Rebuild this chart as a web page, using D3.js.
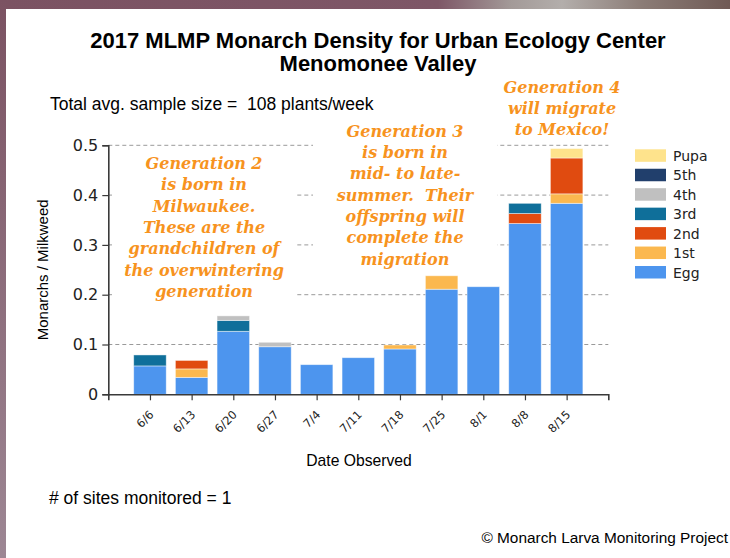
<!DOCTYPE html>
<html>
<head>
<meta charset="utf-8">
<script src="https://cdn.jsdelivr.net/npm/d3@7"></script>
<style>
  html, body { margin: 0; padding: 0; background: #fff; }
  svg { display: block; }
</style>
</head>
<body>
<div id="chart"></div>
<script>
// data
const dates = ["6/6", "6/13", "6/20", "6/27", "7/4", "7/11", "7/18", "7/25", "8/1", "8/8", "8/15"];
const stages = ["Egg", "1st", "2nd", "3rd", "4th", "5th", "Pupa"];
const egg    = [0.057, 0.034, 0.1265, 0.0955, 0.0595, 0.0735, 0.091, 0.211, 0.216, 0.343, 0.3835];
const first  = [0, 0.017, 0, 0, 0, 0, 0.008, 0.027, 0, 0, 0.019];
const second = [0, 0.017, 0, 0, 0, 0, 0, 0, 0, 0.020, 0.072];
const third  = [0.022, 0, 0.022, 0, 0, 0, 0, 0, 0, 0.0205, 0];
const fourth = [0, 0, 0.009, 0.009, 0, 0, 0, 0, 0, 0, 0];
const fifth  = [0, 0, 0, 0, 0, 0, 0, 0, 0, 0, 0];
const pupa   = [0, 0, 0, 0, 0, 0, 0, 0, 0, 0, 0.019];
const yTicks = [0, 0.1, 0.2, 0.3, 0.4, 0.5];

const colors = {
  "Egg": "#4d95ee", "1st": "#fbb84f", "2nd": "#e04b10", "3rd": "#0f6f9a",
  "4th": "#c0c0c0", "5th": "#213f6c", "Pupa": "#fee38c"
};

const gen2 = ["Generation 2", "is born in", "Milwaukee.", "These are the",
              "grandchildren of", "the overwintering", "generation"];
const gen3 = ["Generation 3", "is born in", "mid- to late-", "summer.  Their",
              "offspring will", "complete the", "migration"];
const gen4 = ["Generation 4", "will migrate", "to Mexico!"];

const W = 730, H = 558;
const sans = "'Liberation Sans', Arial, sans-serif";
const wide = "'DejaVu Sans', Verdana, sans-serif";
const orange = "#f7931e";

const svg = d3.select("#chart").append("svg")
  .attr("width", W)
  .attr("height", H);

// photo-ish frame round the white panel
const defs = svg.append("defs");
const gTop = defs.append("linearGradient").attr("id", "topStrip");
[["0%", "#7b5262"], ["60%", "#7e5767"], ["70%", "#a39a98"], ["77%", "#b3aeab"], ["88%", "#8b7c76"], ["100%", "#6f5a55"]]
  .forEach(([o, c]) => gTop.append("stop").attr("offset", o).attr("stop-color", c));
const gLeft = defs.append("linearGradient").attr("id", "leftStrip")
  .attr("x1", 0).attr("x2", 0).attr("y1", 0).attr("y2", 1);
[["0%", "#7b5262"], ["100%", "#9d8794"]]
  .forEach(([o, c]) => gLeft.append("stop").attr("offset", o).attr("stop-color", c));

svg.append("rect").attr("width", W).attr("height", 9).attr("fill", "url(#topStrip)");
svg.append("rect").attr("width", 6).attr("height", H).attr("fill", "url(#leftStrip)");
svg.append("rect").attr("x", 6).attr("y", 9).attr("width", W - 6).attr("height", H - 9).attr("fill", "#fff");

// scales
const x = d3.scaleLinear().domain([0, dates.length + 1]).range([108.3, 608.3]);
const y = d3.scaleLinear().domain([0, 0.5]).range([394.3, 145.3]);
const barW = (x(1) - x(0)) * 0.78;

// gridlines
svg.append("g").selectAll("line")
  .data(yTicks.filter(d => d > 0))
  .enter().append("line")
  .attr("x1", x(0)).attr("x2", x(dates.length + 1))
  .attr("y1", d => y(d)).attr("y2", d => y(d))
  .attr("stroke", "#9a9a9a")
  .attr("stroke-width", 1)
  .attr("stroke-dasharray", "4,3");

// annotation text with white boxes (they hide the gridlines)
function note(lines, cx, base, top, bottom) {
  const g = svg.append("g");
  g.append("rect")
    .attr("x", cx - 92).attr("y", top)
    .attr("width", 184).attr("height", bottom - top)
    .attr("fill", "#fff");
  g.selectAll("text")
    .data(lines)
    .enter().append("text")
    .attr("x", cx)
    .attr("y", (d, i) => base + i * 21.3)
    .attr("text-anchor", "middle")
    .style("font-family", "'DejaVu Serif', serif")
    .style("font-style", "italic")
    .style("font-weight", "bold")
    .style("font-size", "16px")
    .style("fill", orange)
    .style("white-space", "pre")
    .text(d => d);
}
note(gen2, 204, 169, 150, 302);
note(gen3, 405, 136.7, 116, 273);
note(gen4, 562, 92.7, 74, 141);

// stacked bars
const rows = dates.map((d, i) => ({
  date: d, "Egg": egg[i], "1st": first[i], "2nd": second[i], "3rd": third[i],
  "4th": fourth[i], "5th": fifth[i], "Pupa": pupa[i]
}));
const stacked = d3.stack().keys(stages)(rows);

svg.append("g").selectAll("g")
  .data(stacked)
  .enter().append("g")
  .attr("fill", d => colors[d.key])
  .selectAll("rect")
  .data(d => d.filter(s => s[1] - s[0] > 0))
  .enter().append("rect")
  .attr("x", d => x(dates.indexOf(d.data.date) + 1) - barW / 2)
  .attr("y", d => y(d[1]))
  .attr("width", barW)
  .attr("height", d => y(d[0]) - y(d[1]))
  .attr("stroke", "#fff")
  .attr("stroke-opacity", 0.55)
  .attr("stroke-width", 0.8);

// axes
const yAxis = d3.axisLeft(y)
  .tickValues(yTicks)
  .tickSize(6)
  .tickPadding(4)
  .tickFormat(d => d === 0 ? "0" : d3.format(".1f")(d));

const yg = svg.append("g")
  .attr("transform", `translate(${x(0)},0)`)
  .call(yAxis);

const xAxis = d3.axisBottom(x)
  .tickValues(d3.range(1, dates.length + 1))
  .tickSize(6)
  .tickFormat(d => dates[d - 1]);

const xg = svg.append("g")
  .attr("transform", `translate(0,${y(0)})`)
  .call(xAxis);

[yg, xg].forEach(g => {
  g.select(".domain").attr("stroke", "#3a3a3a").attr("stroke-width", 1.6);
  g.selectAll(".tick line").attr("stroke", "#3a3a3a").attr("stroke-width", 1.2);
});
yg.selectAll(".tick text")
  .style("font-family", wide)
  .style("font-size", "16px")
  .style("fill", "#222");
xg.selectAll(".tick text")
  .attr("x", 0).attr("y", 0).attr("dy", 0)
  .attr("transform", "translate(4,21) rotate(-45)")
  .style("text-anchor", "end")
  .style("font-family", wide)
  .style("font-size", "11.5px")
  .style("fill", "#222");

// legend
const legend = svg.append("g");
stages.slice().reverse().forEach((s, i) => {
  legend.append("rect")
    .attr("x", 635).attr("y", 149.3 + i * 19.45)
    .attr("width", 31).attr("height", 12.5)
    .attr("fill", colors[s]);
  legend.append("text")
    .attr("x", 673).attr("y", 149.3 + i * 19.45 + 11.5)
    .style("font-family", wide)
    .style("font-size", "14px")
    .style("fill", "#222")
    .text(s);
});

// titles and notes
svg.append("text")
  .attr("x", 378).attr("y", 48)
  .attr("text-anchor", "middle")
  .style("font-family", sans).style("font-weight", "bold").style("font-size", "22px")
  .text("2017 MLMP Monarch Density for Urban Ecology Center");
svg.append("text")
  .attr("x", 378).attr("y", 71)
  .attr("text-anchor", "middle")
  .style("font-family", sans).style("font-weight", "bold").style("font-size", "22px")
  .text("Menomonee Valley");

svg.append("text")
  .attr("x", 50).attr("y", 110)
  .style("font-family", sans).style("font-size", "17.5px")
  .style("white-space", "pre")
  .text("Total avg. sample size =  108 plants/week");

svg.append("text")
  .attr("transform", `translate(48,${(y(0) + y(0.5)) / 2}) rotate(-90)`)
  .attr("text-anchor", "middle")
  .style("font-family", sans).style("font-size", "15px")
  .text("Monarchs / Milkweed");

svg.append("text")
  .attr("x", 359).attr("y", 466)
  .attr("text-anchor", "middle")
  .style("font-family", sans).style("font-size", "15.7px")
  .text("Date Observed");

svg.append("text")
  .attr("x", 49).attr("y", 504)
  .style("font-family", sans).style("font-size", "17.5px")
  .text("# of sites monitored = 1");

svg.append("text")
  .attr("x", 728).attr("y", 543)
  .attr("text-anchor", "end")
  .style("font-family", sans).style("font-size", "15.4px")
  .text("\u00a9 Monarch Larva Monitoring Project");
</script>
</body>
</html>
